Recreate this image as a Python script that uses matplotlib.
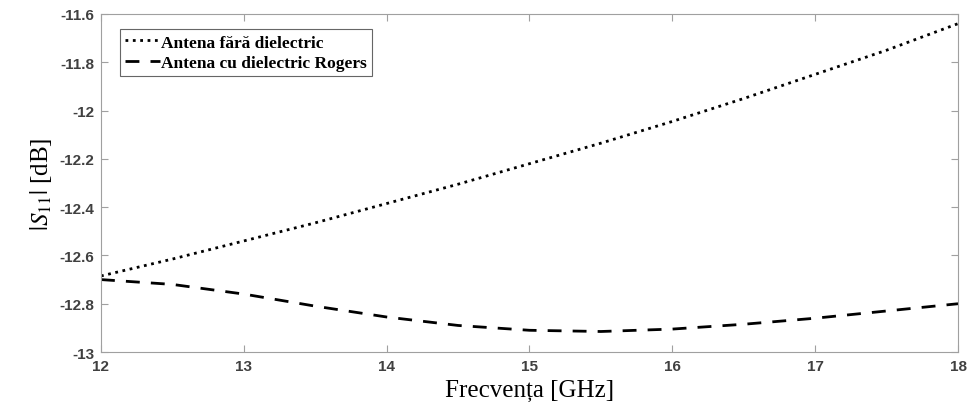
import matplotlib.pyplot as plt

plt.rcParams["mathtext.fontset"] = "stix"

freq = [12, 12.5, 13, 13.5, 14, 14.5, 15, 15.5, 16, 16.5, 17, 17.5, 18]
s11_fara = [-12.685, -12.615, -12.54, -12.465, -12.385, -12.305, -12.22, -12.135,
            -12.045, -11.95, -11.85, -11.75, -11.64]
s11_rogers = [-12.70, -12.72, -12.76, -12.81, -12.855, -12.89, -12.91, -12.915,
              -12.905, -12.885, -12.86, -12.83, -12.80]

fig = plt.figure(figsize=(9.68, 4.14), dpi=100)
ax = fig.add_axes([0.1043, 0.1473, 0.8854, 0.8165])

ax.plot(freq, s11_fara, color="black", linestyle=":", linewidth=2,
        label="Antena fără dielectric")
ax.plot(freq, s11_rogers, color="black", linestyle=(0, (5, 4)), linewidth=2,
        label="Antena cu dielectric Rogers")

ax.set_xlim(12, 18)
ax.set_ylim(-13, -11.6)
ax.set_xticks([12, 13, 14, 15, 16, 17, 18])
ax.set_yticks([-13, -12.8, -12.6, -12.4, -12.2, -12, -11.8, -11.6])
ax.set_yticklabels(["-13", "-12.8", "-12.6", "-12.4", "-12.2", "-12", "-11.8", "-11.6"])

for s in ax.spines.values():
    s.set_color("#a0a0a0")
ax.tick_params(direction="in", length=5, color="#a0a0a0", top=True, right=True,
               labelcolor="#404040", labelsize=11, pad=5)
for lab in ax.get_xticklabels() + ax.get_yticklabels():
    lab.set_fontfamily("Liberation Sans")
    lab.set_fontweight("bold")

ax.set_xlabel("Frecvența [GHz]", fontfamily="Liberation Serif", fontsize=18)
ax.set_ylabel(r"$|S_{11}|$ [dB]", fontfamily="Liberation Serif", fontsize=18)

leg = ax.legend(loc="upper left", bbox_to_anchor=(0.022, 0.955), borderaxespad=0,
                fancybox=False, handlelength=2.0, handletextpad=0.1, borderpad=0.3,
                labelspacing=0.25,
                prop={"family": "Liberation Serif", "weight": "bold", "size": 12.5})
leg.get_frame().set_edgecolor("#404040")
leg.get_frame().set_linewidth(0.8)

fig.savefig("out.png", dpi=100)
